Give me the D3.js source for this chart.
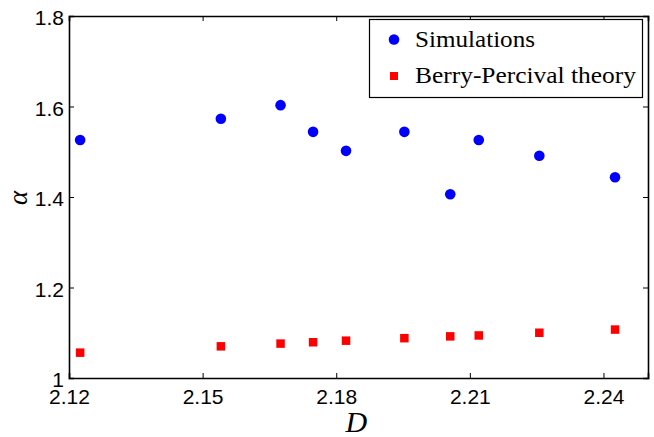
<!DOCTYPE html>
<html>
<head>
<meta charset="utf-8">
<script src="https://cdn.jsdelivr.net/npm/d3@7"></script>
<style>
  html, body { margin: 0; padding: 0; background: #fff; }
  svg { display: block; }
</style>
</head>
<body>
<svg id="chart" width="654" height="437"></svg>
<script>
// Fractal dimension D and exponent alpha
const dimension = [2.1225, 2.1541, 2.1675, 2.1748, 2.1822, 2.1953, 2.2056, 2.2120, 2.2256, 2.2426];
const simulations = [1.526, 1.573, 1.603, 1.544, 1.502, 1.544, 1.406, 1.526, 1.491, 1.4435];
const berryPercival = [1.056, 1.070, 1.076, 1.079, 1.0825, 1.088, 1.092, 1.094, 1.100, 1.107];
const xTicks = [2.12, 2.15, 2.18, 2.21, 2.24];
const yTicks = [1, 1.2, 1.4, 1.6, 1.8];
const legendLabels = ["Simulations", "Berry-Percival theory"];
const legendWidths = [120, 221];

const svg = d3.select("#chart");
const plotLeft = 69, plotRight = 648, plotTop = 16, plotBottom = 378;

const x = d3.scaleLinear().domain([2.12, 2.25]).range([plotLeft, plotRight]);
const y = d3.scaleLinear().domain([1, 1.8]).range([plotBottom, plotTop]);

const tickFont = "Liberation Sans, Arial, Helvetica, sans-serif";
const serifFont = "Liberation Serif, DejaVu Serif, serif";

// Frame with inward ticks on all four sides
const g = svg.append("g");
g.append("g").attr("transform", `translate(0,${plotBottom})`)
  .call(d3.axisBottom(x).tickValues(xTicks).tickSize(-5).tickPadding(11)
    .tickFormat(d3.format(".2f")));
g.append("g").attr("transform", `translate(0,${plotTop})`)
  .call(d3.axisTop(x).tickValues(xTicks).tickSize(-5).tickFormat(""));
const yAxisG = g.append("g").attr("transform", `translate(${plotLeft},0)`)
  .call(d3.axisLeft(y).tickValues(yTicks).tickSize(-5).tickPadding(5)
    .tickFormat(d => String(+d.toFixed(1))));
yAxisG.selectAll(".tick text").attr("dy", "0.42em");
g.append("g").attr("transform", `translate(${plotRight},0)`)
  .call(d3.axisRight(y).tickValues(yTicks).tickSize(-5).tickFormat(""));

g.selectAll(".domain").attr("stroke", "#000").attr("stroke-width", 1.6);
g.selectAll(".tick line").attr("stroke", "#000").attr("stroke-width", 1);
g.selectAll(".tick text").attr("fill", "#000")
  .style("font-family", tickFont).style("font-size", "21px");

// Data marks
svg.append("g").selectAll("circle").data(dimension).join("circle")
  .attr("cx", d => x(d))
  .attr("cy", (d, i) => y(simulations[i]))
  .attr("r", 5.3)
  .attr("fill", "#0000ff");

const sq = 8.5;
svg.append("g").selectAll("rect").data(dimension).join("rect")
  .attr("x", d => x(d) - sq / 2)
  .attr("y", (d, i) => y(berryPercival[i]) - sq / 2)
  .attr("width", sq).attr("height", sq)
  .attr("fill", "#ff0000");

// Axis labels
svg.append("text")
  .attr("x", x(2.18) + 20).attr("y", 432)
  .attr("text-anchor", "middle")
  .style("font-family", serifFont)
  .style("font-style", "italic").style("font-size", "30px")
  .text("D");

svg.append("text")
  .attr("transform", `translate(27,198) rotate(-90)`)
  .attr("text-anchor", "middle")
  .style("font-family", serifFont)
  .style("font-style", "italic").style("font-size", "27px")
  .text("α");

// Legend
const legend = svg.append("g");
legend.append("rect")
  .attr("x", 369.5).attr("y", 19.5).attr("width", 273).attr("height", 78)
  .attr("fill", "#fff").attr("stroke", "#000").attr("stroke-width", 1.2);
legend.append("circle").attr("cx", 394).attr("cy", 39.5).attr("r", 5.3).attr("fill", "#0000ff");
legend.append("rect").attr("x", 394 - 4).attr("y", 76 - 4).attr("width", 8).attr("height", 8).attr("fill", "#ff0000");
legend.selectAll("text.lbl").data(legendLabels).join("text")
  .attr("class", "lbl")
  .attr("x", 415)
  .attr("y", (d, i) => 46.5 + i * 36.5)
  .attr("textLength", (d, i) => legendWidths[i])
  .attr("lengthAdjust", "spacingAndGlyphs")
  .style("font-family", serifFont)
  .style("font-size", "23px")
  .attr("fill", "#000")
  .text(d => d);
</script>
</body>
</html>
